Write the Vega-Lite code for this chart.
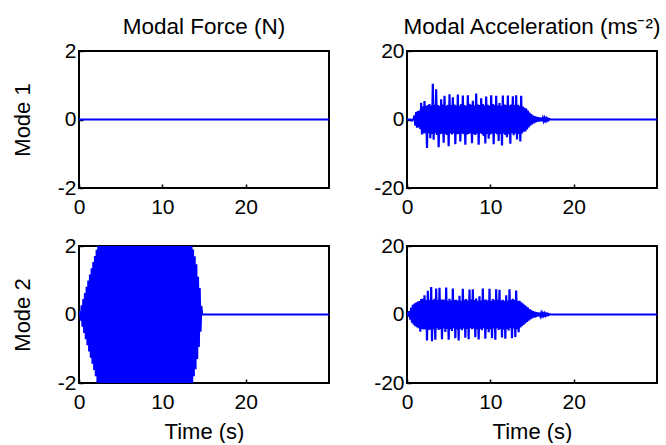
{
  "$schema": "https://vega.github.io/schema/vega-lite/v6.json",
  "background": "white",
  "padding": {"left": 10, "top": 14, "right": 0, "bottom": 0},
  "bounds": "flush",
  "columns": 2,
  "spacing": {"row": 58, "column": 78},
  "config": {
    "font": "Liberation Sans",
    "view": {"stroke": "#000", "strokeWidth": 2},
    "axis": {"domain": false, "grid": false, "labelFont": "Liberation Sans", "labelFontSize": 21, "labelColor": "#000", "tickColor": "#000", "tickSize": -4, "tickWidth": 1.5, "titleFont": "Liberation Sans", "titleFontSize": 22, "titleFontWeight": "normal", "titleColor": "#000", "labelFlush": false, "labelOverlap": false, "labelExpr": "replace(datum.label, '−', '-')"},
    "axisX": {"labelPadding": 12, "titlePadding": 9},
    "axisY": {"labelPadding": 7, "titlePadding": 23},
    "title": {"font": "Liberation Sans", "fontSize": 22.5, "fontWeight": "normal", "color": "#000", "offset": 2}
  },
  "datasets": {
    "f1": [{"t": 0, "v": 0}, {"t": 30, "v": 0}],
    "f2": [
      {"t":0,"v":0},{"t":0.1,"v":0.09},{"t":0.2,"v":-0.18},{"t":0.3,"v":0.27},{"t":0.4,"v":-0.36},{"t":0.5,"v":0.45},{"t":0.6,"v":-0.54},{"t":0.7,"v":0.63},{"t":0.8,"v":-0.72},{"t":0.9,"v":0.81},{"t":1.0,"v":-0.9},
      {"t":1.1,"v":0.99},{"t":1.2,"v":-1.08},{"t":1.3,"v":1.17},{"t":1.4,"v":-1.26},{"t":1.5,"v":1.35},{"t":1.6,"v":-1.44},{"t":1.7,"v":1.53},{"t":1.8,"v":-1.62},{"t":1.9,"v":1.71},{"t":2.0,"v":-1.8},
      {"t":2.1,"v":1.89},{"t":2.2,"v":-1.98},{"t":2.3,"v":2.07},{"t":2.4,"v":-2.16},{"t":2.5,"v":2.25},{"t":2.6,"v":-2.34},{"t":2.7,"v":2.43},{"t":2.8,"v":-2.52},{"t":2.9,"v":2.6},{"t":3.0,"v":-2.6},
      {"t":3.1,"v":2.6},{"t":3.2,"v":-2.6},{"t":3.3,"v":2.6},{"t":3.4,"v":-2.6},{"t":3.5,"v":2.6},{"t":3.6,"v":-2.6},{"t":3.7,"v":2.6},{"t":3.8,"v":-2.6},{"t":3.9,"v":2.6},{"t":4.0,"v":-2.6},
      {"t":4.1,"v":2.6},{"t":4.2,"v":-2.6},{"t":4.3,"v":2.6},{"t":4.4,"v":-2.6},{"t":4.5,"v":2.6},{"t":4.6,"v":-2.6},{"t":4.7,"v":2.6},{"t":4.8,"v":-2.6},{"t":4.9,"v":2.6},{"t":5.0,"v":-2.6},
      {"t":5.1,"v":2.6},{"t":5.2,"v":-2.6},{"t":5.3,"v":2.6},{"t":5.4,"v":-2.6},{"t":5.5,"v":2.6},{"t":5.6,"v":-2.6},{"t":5.7,"v":2.6},{"t":5.8,"v":-2.6},{"t":5.9,"v":2.6},{"t":6.0,"v":-2.6},
      {"t":6.1,"v":2.6},{"t":6.2,"v":-2.6},{"t":6.3,"v":2.6},{"t":6.4,"v":-2.6},{"t":6.5,"v":2.6},{"t":6.6,"v":-2.6},{"t":6.7,"v":2.6},{"t":6.8,"v":-2.6},{"t":6.9,"v":2.6},{"t":7.0,"v":-2.6},
      {"t":7.1,"v":2.6},{"t":7.2,"v":-2.6},{"t":7.3,"v":2.6},{"t":7.4,"v":-2.6},{"t":7.5,"v":2.6},{"t":7.6,"v":-2.6},{"t":7.7,"v":2.6},{"t":7.8,"v":-2.6},{"t":7.9,"v":2.6},{"t":8.0,"v":-2.6},
      {"t":8.1,"v":2.6},{"t":8.2,"v":-2.6},{"t":8.3,"v":2.6},{"t":8.4,"v":-2.6},{"t":8.5,"v":2.6},{"t":8.6,"v":-2.6},{"t":8.7,"v":2.6},{"t":8.8,"v":-2.6},{"t":8.9,"v":2.6},{"t":9.0,"v":-2.6},
      {"t":9.1,"v":2.6},{"t":9.2,"v":-2.6},{"t":9.3,"v":2.6},{"t":9.4,"v":-2.6},{"t":9.5,"v":2.6},{"t":9.6,"v":-2.6},{"t":9.7,"v":2.6},{"t":9.8,"v":-2.6},{"t":9.9,"v":2.6},{"t":10.0,"v":-2.6},
      {"t":10.1,"v":2.6},{"t":10.2,"v":-2.6},{"t":10.3,"v":2.6},{"t":10.4,"v":-2.6},{"t":10.5,"v":2.6},{"t":10.6,"v":-2.6},{"t":10.7,"v":2.6},{"t":10.8,"v":-2.6},{"t":10.9,"v":2.6},{"t":11.0,"v":-2.6},
      {"t":11.1,"v":2.6},{"t":11.2,"v":-2.6},{"t":11.3,"v":2.6},{"t":11.4,"v":-2.6},{"t":11.5,"v":2.6},{"t":11.6,"v":-2.6},{"t":11.7,"v":2.6},{"t":11.8,"v":-2.6},{"t":11.9,"v":2.6},{"t":12.0,"v":-2.6},
      {"t":12.1,"v":2.6},{"t":12.2,"v":-2.6},{"t":12.3,"v":2.6},{"t":12.4,"v":-2.6},{"t":12.5,"v":2.6},{"t":12.6,"v":-2.6},{"t":12.7,"v":2.6},{"t":12.8,"v":-2.6},{"t":12.9,"v":2.6},{"t":13.0,"v":-2.6},
      {"t":13.1,"v":2.6},{"t":13.2,"v":-2.6},{"t":13.3,"v":2.6},{"t":13.4,"v":-2.6},{"t":13.5,"v":2.6},{"t":13.6,"v":-2.0},{"t":13.7,"v":1.9},{"t":13.8,"v":-1.8},{"t":13.9,"v":1.7},{"t":14.0,"v":-1.6},
      {"t":14.1,"v":1.47},{"t":14.2,"v":-1.3},{"t":14.3,"v":1.1},{"t":14.4,"v":-0.95},{"t":14.5,"v":0.77},{"t":14.6,"v":-0.5},{"t":14.7,"v":0.25},{"t":14.8,"v":0},{"t":30,"v":0}
    ],
    "a1": [
      {"t":0,"v":0},{"t":0.2,"v":0},{"t":0.4,"v":0},{"t":0.6,"v":-0.3},{"t":0.8,"v":0.2},
      {"t":0.9,"v":1.2},{"t":1.0,"v":-1.8},{"t":1.1,"v":2.2},{"t":1.2,"v":-2.4},{"t":1.3,"v":2.5},{"t":1.4,"v":-2.3},{"t":1.5,"v":2.6},{"t":1.6,"v":-2.8},{"t":1.7,"v":4.9},{"t":1.8,"v":-4.4},
      {"t":1.9,"v":3.8},{"t":2.0,"v":-4.1},{"t":2.1,"v":5.4},{"t":2.2,"v":-4.0},{"t":2.3,"v":3.9},{"t":2.4,"v":-8.3},{"t":2.5,"v":4.2},{"t":2.6,"v":-4.0},{"t":2.7,"v":4.5},{"t":2.8,"v":-5.5},
      {"t":2.9,"v":4.1},{"t":3.0,"v":-4.2},{"t":3.1,"v":10.4},{"t":3.2,"v":-5.9},{"t":3.3,"v":4.3},{"t":3.4,"v":-4.0},{"t":3.5,"v":8.8},{"t":3.6,"v":-4.5},{"t":3.7,"v":4.2},{"t":3.8,"v":-8.1},
      {"t":3.9,"v":4.0},{"t":4.0,"v":-4.3},{"t":4.1,"v":5.9},{"t":4.2,"v":-4.1},{"t":4.3,"v":4.4},{"t":4.4,"v":-6.8},{"t":4.5,"v":6.9},{"t":4.6,"v":-4.2},{"t":4.7,"v":4.0},{"t":4.8,"v":-4.5},
      {"t":4.9,"v":4.3},{"t":5.0,"v":-7.8},{"t":5.1,"v":7.4},{"t":5.2,"v":-4.1},{"t":5.3,"v":4.2},{"t":5.4,"v":-4.4},{"t":5.5,"v":6.5},{"t":5.6,"v":-4.0},{"t":5.7,"v":4.4},{"t":5.8,"v":-7.2},
      {"t":5.9,"v":4.1},{"t":6.0,"v":-4.3},{"t":6.1,"v":7.3},{"t":6.2,"v":-4.2},{"t":6.3,"v":4.0},{"t":6.4,"v":-6.4},{"t":6.5,"v":4.5},{"t":6.6,"v":-4.1},{"t":6.7,"v":7.0},{"t":6.8,"v":-4.3},
      {"t":6.9,"v":4.2},{"t":7.0,"v":-7.4},{"t":7.1,"v":4.0},{"t":7.2,"v":-4.4},{"t":7.3,"v":7.1},{"t":7.4,"v":-4.2},{"t":7.5,"v":4.6},{"t":7.6,"v":-4.0},{"t":7.7,"v":4.3},{"t":7.8,"v":-6.9},
      {"t":7.9,"v":5.5},{"t":8.0,"v":-4.2},{"t":8.1,"v":4.1},{"t":8.2,"v":-4.5},{"t":8.3,"v":7.6},{"t":8.4,"v":-4.1},{"t":8.5,"v":4.4},{"t":8.6,"v":-7.4},{"t":8.7,"v":4.2},{"t":8.8,"v":-4.0},
      {"t":8.9,"v":6.2},{"t":9.0,"v":-4.3},{"t":9.1,"v":4.5},{"t":9.2,"v":-4.8},{"t":9.3,"v":4.1},{"t":9.4,"v":-7.0},{"t":9.5,"v":6.7},{"t":9.6,"v":-4.2},{"t":9.7,"v":4.3},{"t":9.8,"v":-5.6},
      {"t":9.9,"v":4.0},{"t":10.0,"v":-4.4},{"t":10.1,"v":7.1},{"t":10.2,"v":-4.1},{"t":10.3,"v":4.5},{"t":10.4,"v":-7.2},{"t":10.5,"v":4.2},{"t":10.6,"v":-4.0},{"t":10.7,"v":6.9},{"t":10.8,"v":-4.3},
      {"t":10.9,"v":4.1},{"t":11.0,"v":-6.3},{"t":11.1,"v":4.8},{"t":11.2,"v":-4.2},{"t":11.3,"v":4.0},{"t":11.4,"v":-7.6},{"t":11.5,"v":7.0},{"t":11.6,"v":-4.1},{"t":11.7,"v":4.4},{"t":11.8,"v":-4.5},
      {"t":11.9,"v":4.2},{"t":12.0,"v":-5.2},{"t":12.1,"v":7.0},{"t":12.2,"v":-4.3},{"t":12.3,"v":4.1},{"t":12.4,"v":-7.1},{"t":12.5,"v":4.4},{"t":12.6,"v":-4.0},{"t":12.7,"v":6.8},{"t":12.8,"v":-4.6},
      {"t":12.9,"v":4.2},{"t":13.0,"v":-4.1},{"t":13.1,"v":7.1},{"t":13.2,"v":-5.8},{"t":13.3,"v":4.3},{"t":13.4,"v":-4.2},{"t":13.5,"v":4.0},{"t":13.6,"v":-6.4},{"t":13.7,"v":6.9},{"t":13.8,"v":-4.1},
      {"t":13.9,"v":3.8},{"t":14.0,"v":-3.6},{"t":14.1,"v":3.4},{"t":14.2,"v":-3.5},{"t":14.3,"v":3.2},{"t":14.4,"v":-2.9},{"t":14.5,"v":2.6},{"t":14.6,"v":-2.3},{"t":14.7,"v":2.0},{"t":14.8,"v":-1.8},
      {"t":14.9,"v":1.6},{"t":15.0,"v":-1.4},{"t":15.1,"v":1.2},{"t":15.2,"v":-1.1},{"t":15.3,"v":1.0},{"t":15.4,"v":-0.9},{"t":15.5,"v":0.8},{"t":15.6,"v":-0.7},{"t":15.7,"v":0.7},{"t":15.8,"v":-0.6},
      {"t":15.9,"v":0.6},{"t":16.0,"v":-0.5},{"t":16.1,"v":0.5},{"t":16.2,"v":-0.5},{"t":16.3,"v":0.4},{"t":16.4,"v":-0.4},{"t":16.5,"v":0.4},{"t":16.6,"v":-0.3},{"t":16.7,"v":0.3},{"t":16.8,"v":-0.3},
      {"t":16.9,"v":0.2},{"t":17.0,"v":-0.2},{"t":17.1,"v":0.1},{"t":17.2,"v":0},{"t":30,"v":0}
    ],
    "a2": [
      {"t":0,"v":0},{"t":0.1,"v":0.3},{"t":0.2,"v":-0.6},{"t":0.3,"v":1.0},{"t":0.4,"v":-1.5},{"t":0.5,"v":2.0},{"t":0.6,"v":-2.4},{"t":0.7,"v":2.8},{"t":0.8,"v":-3.0},{"t":0.9,"v":3.2},
      {"t":1.0,"v":-3.4},{"t":1.1,"v":3.5},{"t":1.2,"v":-3.7},{"t":1.3,"v":3.8},{"t":1.4,"v":-4.0},{"t":1.5,"v":3.9},{"t":1.6,"v":-5.0},{"t":1.7,"v":4.5},{"t":1.8,"v":-4.2},{"t":1.9,"v":4.6},
      {"t":2.0,"v":-4.4},{"t":2.1,"v":5.6},{"t":2.2,"v":-4.3},{"t":2.3,"v":4.2},{"t":2.4,"v":-7.6},{"t":2.5,"v":6.9},{"t":2.6,"v":-4.5},{"t":2.7,"v":4.3},{"t":2.8,"v":-4.4},{"t":2.9,"v":8.0},
      {"t":3.0,"v":-7.8},{"t":3.1,"v":4.2},{"t":3.2,"v":-4.3},{"t":3.3,"v":4.6},{"t":3.4,"v":-7.4},{"t":3.5,"v":7.6},{"t":3.6,"v":-4.1},{"t":3.7,"v":4.2},{"t":3.8,"v":-4.5},{"t":3.9,"v":7.8},
      {"t":4.0,"v":-4.2},{"t":4.1,"v":4.4},{"t":4.2,"v":-7.2},{"t":4.3,"v":4.4},{"t":4.4,"v":-4.1},{"t":4.5,"v":4.3},{"t":4.6,"v":-5.1},{"t":4.7,"v":7.9},{"t":4.8,"v":-4.2},{"t":4.9,"v":4.0},
      {"t":5.0,"v":-7.4},{"t":5.1,"v":4.6},{"t":5.2,"v":-4.3},{"t":5.3,"v":4.1},{"t":5.4,"v":-4.8},{"t":5.5,"v":7.6},{"t":5.6,"v":-4.0},{"t":5.7,"v":4.2},{"t":5.8,"v":-6.9},{"t":5.9,"v":4.3},
      {"t":6.0,"v":-4.4},{"t":6.1,"v":4.1},{"t":6.2,"v":-7.6},{"t":6.3,"v":5.5},{"t":6.4,"v":-4.2},{"t":6.5,"v":4.0},{"t":6.6,"v":-4.6},{"t":6.7,"v":7.5},{"t":6.8,"v":-4.1},{"t":6.9,"v":4.3},
      {"t":7.0,"v":-6.8},{"t":7.1,"v":4.5},{"t":7.2,"v":-4.2},{"t":7.3,"v":4.1},{"t":7.4,"v":-7.2},{"t":7.5,"v":7.3},{"t":7.6,"v":-4.0},{"t":7.7,"v":4.4},{"t":7.8,"v":-4.3},{"t":7.9,"v":7.4},
      {"t":8.0,"v":-4.1},{"t":8.1,"v":4.2},{"t":8.2,"v":-6.6},{"t":8.3,"v":4.7},{"t":8.4,"v":-4.3},{"t":8.5,"v":4.0},{"t":8.6,"v":-7.3},{"t":8.7,"v":5.3},{"t":8.8,"v":-4.2},{"t":8.9,"v":4.1},
      {"t":9.0,"v":-4.6},{"t":9.1,"v":7.6},{"t":9.2,"v":-4.0},{"t":9.3,"v":4.3},{"t":9.4,"v":-7.1},{"t":9.5,"v":4.4},{"t":9.6,"v":-4.2},{"t":9.7,"v":4.1},{"t":9.8,"v":-5.2},{"t":9.9,"v":7.5},
      {"t":10.0,"v":-4.3},{"t":10.1,"v":4.0},{"t":10.2,"v":-6.9},{"t":10.3,"v":4.5},{"t":10.4,"v":-4.1},{"t":10.5,"v":4.2},{"t":10.6,"v":-7.4},{"t":10.7,"v":7.4},{"t":10.8,"v":-4.0},{"t":10.9,"v":4.3},
      {"t":11.0,"v":-4.5},{"t":11.1,"v":7.2},{"t":11.2,"v":-4.2},{"t":11.3,"v":4.1},{"t":11.4,"v":-6.7},{"t":11.5,"v":4.3},{"t":11.6,"v":-4.4},{"t":11.7,"v":4.0},{"t":11.8,"v":-7.1},{"t":11.9,"v":5.6},
      {"t":12.0,"v":-4.2},{"t":12.1,"v":4.1},{"t":12.2,"v":-4.7},{"t":12.3,"v":7.4},{"t":12.4,"v":-4.0},{"t":12.5,"v":4.3},{"t":12.6,"v":-6.9},{"t":12.7,"v":4.6},{"t":12.8,"v":-4.1},{"t":12.9,"v":4.2},
      {"t":13.0,"v":-6.6},{"t":13.1,"v":7.0},{"t":13.2,"v":-4.3},{"t":13.3,"v":4.0},{"t":13.4,"v":-5.2},{"t":13.5,"v":4.0},{"t":13.6,"v":-3.8},{"t":13.7,"v":3.6},{"t":13.8,"v":-3.4},{"t":13.9,"v":3.2},
      {"t":14.0,"v":-3.0},{"t":14.1,"v":2.8},{"t":14.2,"v":-2.6},{"t":14.3,"v":2.4},{"t":14.4,"v":-2.2},{"t":14.5,"v":2.0},{"t":14.6,"v":-1.8},{"t":14.7,"v":1.6},{"t":14.8,"v":-1.4},{"t":14.9,"v":1.3},
      {"t":15.0,"v":-1.1},{"t":15.1,"v":1.0},{"t":15.2,"v":-0.9},{"t":15.3,"v":0.8},{"t":15.4,"v":-0.8},{"t":15.5,"v":0.7},{"t":15.6,"v":-0.6},{"t":15.7,"v":0.6},{"t":15.8,"v":-0.5},{"t":15.9,"v":0.5},
      {"t":16.0,"v":-0.4},{"t":16.1,"v":0.4},{"t":16.2,"v":-0.4},{"t":16.3,"v":0.3},{"t":16.4,"v":-0.3},{"t":16.5,"v":0.3},{"t":16.6,"v":-0.3},{"t":16.7,"v":0.2},{"t":16.8,"v":-0.2},{"t":16.9,"v":0.2},
      {"t":17.0,"v":-0.1},{"t":17.1,"v":0.1},{"t":17.2,"v":0},{"t":30,"v":0}
    ]
  },
  "concat": [
    {
      "width": 250, "height": 137,
      "title": "Modal Force (N)",
      "data": {"name": "f1"},
      "mark": {"type": "line", "color": "#0000ff", "strokeWidth": 1.8, "clip": true},
      "encoding": {
        "x": {"field": "t", "type": "quantitative", "scale": {"domain": [0, 30], "nice": false}, "axis": {"values": [0, 10, 20], "title": null}},
        "y": {"field": "v", "type": "quantitative", "scale": {"domain": [-2, 2], "nice": false}, "axis": {"values": [-2, 0, 2], "title": "Mode 1"}}
      }
    },
    {
      "width": 250, "height": 137,
      "title": "Modal Acceleration (ms⁻²)",
      "data": {"name": "a1"},
      "mark": {"type": "line", "color": "#0000ff", "strokeWidth": 2.2, "clip": true},
      "encoding": {
        "x": {"field": "t", "type": "quantitative", "scale": {"domain": [0, 30], "nice": false}, "axis": {"values": [0, 10, 20], "title": null}},
        "y": {"field": "v", "type": "quantitative", "scale": {"domain": [-20, 20], "nice": false}, "axis": {"values": [-20, 0, 20], "title": null}}
      }
    },
    {
      "width": 250, "height": 137,
      "data": {"name": "f2"},
      "mark": {"type": "line", "color": "#0000ff", "strokeWidth": 1.8, "clip": true},
      "encoding": {
        "x": {"field": "t", "type": "quantitative", "scale": {"domain": [0, 30], "nice": false}, "axis": {"values": [0, 10, 20], "title": "Time (s)"}},
        "y": {"field": "v", "type": "quantitative", "scale": {"domain": [-2, 2], "nice": false}, "axis": {"values": [-2, 0, 2], "title": "Mode 2"}}
      }
    },
    {
      "width": 250, "height": 137,
      "data": {"name": "a2"},
      "mark": {"type": "line", "color": "#0000ff", "strokeWidth": 2.2, "clip": true},
      "encoding": {
        "x": {"field": "t", "type": "quantitative", "scale": {"domain": [0, 30], "nice": false}, "axis": {"values": [0, 10, 20], "title": "Time (s)"}},
        "y": {"field": "v", "type": "quantitative", "scale": {"domain": [-20, 20], "nice": false}, "axis": {"values": [-20, 0, 20], "title": null}}
      }
    }
  ]
}
